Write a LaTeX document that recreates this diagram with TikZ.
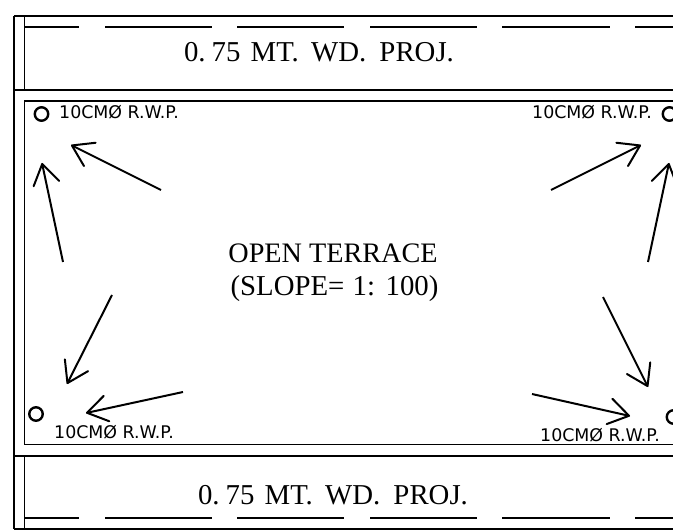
\documentclass[tikz,border=0pt]{standalone}
\usepackage{fontspec}
\setmainfont{Liberation Serif}
\newfontfamily\mylabelfont{DejaVu Sans}
\usetikzlibrary{arrows.meta,positioning}

\newcommand{\myproj}{0.\hspace{6pt}75\hspace{3pt} MT.\hspace{5pt} WD.\hspace{6pt} PROJ.}

\begin{document}
\begin{tikzpicture}[
  x=1pt,
  y=-1pt,
  line cap=butt,
  mywall/.style={line width=2pt},
  mythin/.style={line width=1.5pt},
  myarrow/.style={
    line width=2pt,
    line join=round,
    -{Straight Barb[length=20pt,width=26pt,line width=2pt,round]}
    },
  mydrain/.style={
    draw,
    circle,
    line width=2.4pt,
    inner sep=0pt,
    minimum size=13.5pt
    },
  mytitle/.style={
    anchor=base,
    inner sep=0pt,
    font=\fontsize{28.8}{33}\selectfont
    },
  myterrace/.style={
    anchor=base,
    inner sep=0pt,
    font=\fontsize{28.2}{33}\selectfont
    },
  mylabel/.style={
    anchor=base west,
    inner sep=0pt,
    font=\mylabelfont\fontsize{17.4}{20}\selectfont
    }
]

\clip (0,0) rectangle (673,532);

% outer lines
\draw[mywall] (14,16) -- (14,529);
\draw[mywall] (14,16) -- (673,16);
\draw[mywall] (14,529) -- (673,529);
\draw[mywall] (14,90) -- (366,90);
\draw[mythin] (366,90) -- (464,90);
\draw[mywall] (464,90) -- (673,90);
\draw[mywall] (14,456) -- (673,456);

% terrace edge
\draw[mythin] (24.5,16) -- (24.5,90);
\draw[mythin] (24.5,456) -- (24.5,529);
\draw[mythin] (673,101) -- (24.5,101) -- (24.5,444.5) -- (673,444.5);
\draw[mywall] (312,101) -- (366,101);

% dashed edge of the projections
\foreach \Desde/\Hasta in {25/79,105/212,237/344,370/477,502/610,635/673} {
  \draw[mywall] (\Desde,27.3) -- (\Hasta,27.3);
  \draw[mywall] (\Desde,517.6) -- (\Hasta,517.6);
}

\node[mytitle] (projtop) at (319,61.5) {\myproj};
\node[mytitle] (projbottom) at (333,504) {\myproj};
\node[myterrace] (terrace) at (333,262) {OPEN TERRACE};
\node[mytitle] (slope) at (334.5,295) {(SLOPE=\hspace{1pt} 1:\hspace{1pt} 100)};

% rain water pipes
\node[mydrain] (draintl) at (41.5,114) {};
\node[mydrain] (draintr) at (669.5,114) {};
\node[mydrain] (drainbl) at (36,414) {};
\node[mydrain] (drainbr) at (673.5,417) {};

\node[mylabel] (labeltl) at (59,119) {10CMØ R.W.P.};
\node[mylabel] (labeltr) at (532,119) {10CMØ R.W.P.};
\node[mylabel] (labelbl) at (54,438) {10CMØ R.W.P.};
\node[mylabel] (labelbr) at (540,441) {10CMØ R.W.P.};

% slope arrows
\foreach \Valori/\Ax/\Ay/\Bx/\By in {
    1/161/190/71/145,
    2/63/262/42/163,
    3/551/190/641/145,
    4/648/262/669/163,
    5/112/295/67/384,
    6/183/392/86/413,
    7/603/297/648/387,
    8/532/394/630/416} {
  \coordinate (from\Valori) at (\Ax,\Ay);
  \coordinate (to\Valori) at (\Bx,\By);
  \draw[myarrow] (from\Valori) -- (to\Valori);
}

\end{tikzpicture}
\end{document}
